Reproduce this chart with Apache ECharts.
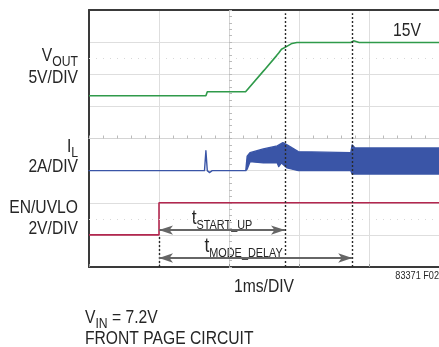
<!DOCTYPE html>
<html><head><meta charset="utf-8">
<script src="https://cdn.jsdelivr.net/npm/echarts@6/dist/echarts.min.js"></script>
<style>html,body{margin:0;padding:0;background:#fff}#c{width:439px;height:347px}</style>
</head><body><div id="c"></div>
<script>
const FONT = "'Liberation Sans',Arial,sans-serif";
const SX = 0.87; // condensed look

// time axis in ms (1 ms/DIV)
const xTicks = [0, 1, 2, 3, 4, 5];

// VOUT (V), 5V/DIV
const voutTime  = [0, 1.67, 1.69, 2.24, 2.5, 2.68, 2.71, 2.75, 2.82, 2.9, 2.97, 3.74, 3.78, 3.86, 5.0];
const voutVolts = [6.65, 6.65, 7.27, 7.3, 10.6, 12.9, 13.3, 13.9, 14.3, 14.8, 14.95, 14.95, 15.2, 14.95, 14.95];

// IL (A), 2A/DIV — envelope of the switching ripple
const ilUpperTime = [0, 1.65, 1.67, 1.69, 1.72, 1.76, 2.24, 2.26, 2.30, 2.49, 2.69, 2.77, 2.83, 2.99, 3.74, 3.76, 3.80, 5.0];
const ilUpperAmps = [0, 0, 1.24, 0, -0.12, 0, 0, 0.9, 1.12, 1.35, 1.54, 1.74, 1.6, 1.18, 1.12, 1.6, 1.41, 1.41];
const ilLowerTime = [0, 1.65, 1.67, 1.69, 1.72, 1.76, 2.24, 2.26, 2.30, 2.49, 2.69, 2.71, 2.75, 2.83, 2.99, 3.74, 3.76, 5.0];
const ilLowerAmps = [0, 0, 1.24, 0, -0.12, 0, 0, 0.1, 0.56, 0.48, 0.48, 0.25, 0.48, 0.17, 0.0, 0.0, -0.21, -0.21];

// EN/UVLO (V), 2V/DIV
const enTime  = [0, 1.0, 1.0, 5.0];
const enVolts = [0, 0, 2.0, 2.0];

// timing markers (ms)
const markerTimes = [1.0, 2.8, 3.76];
const intervalNames = ['START_UP', 'MODE_DELAY'];

// channel offsets (div) and scales (units/div)
const vDiv = v => 4 + v / 5;
const iDiv = a => 3 + a / 2;
const eDiv = v => 1 + v / 2;

const GREEN = '#2f9a4a', BLUE = '#3a55a7', RED = '#b3274f', TXT = '#262626';

const chart = echarts.init(document.getElementById('c'), null, {renderer: 'canvas'});

const upperPts = ilUpperTime.map((t, i) => [t, iDiv(ilUpperAmps[i])]);
const lowerPts = ilLowerTime.map((t, i) => [t, iDiv(ilLowerAmps[i])]);

const arrowRows = [1.15, 0.28];
const arrowLine = (end, y) => [
  {coord: [markerTimes[0], y], symbol: 'arrow', symbolSize: [7, 14],
   lineStyle: {color: '#666', width: 2, type: 'solid'}},
  {coord: [end, y], symbol: 'arrow', symbolSize: [7, 14]}
];

const richSub = {
  a: {fontFamily: FONT, fontSize: 18, fill: TXT, verticalAlign: 'bottom'},
  b: {fontFamily: FONT, fontSize: 14, fill: TXT, verticalAlign: 'bottom', padding: [0, 0, -4, 0]}
};
const txt = (x, y, text, align, size) => ({type: 'text', x: x, y: y, scaleX: SX, silent: true,
  style: {text: text, font: (size || 18) + 'px ' + FONT, fill: TXT, align: align, verticalAlign: 'middle'}});
const rtxt = (x, y, text, align) => ({type: 'text', x: x, y: y, scaleX: SX, silent: true,
  style: {text: text, align: align, verticalAlign: 'middle', rich: richSub}});

const option = {
  animation: false,
  backgroundColor: '#fff',
  grid: [
    {left: 89, right: 0, top: 10, bottom: 80, show: false},
    {left: 89, right: 0, top: 10, bottom: 80, show: false}
  ],
  xAxis: [
    {gridIndex: 0, type: 'value', min: xTicks[0], max: xTicks[xTicks.length - 1], interval: 1,
     axisLine: {show: true, lineStyle: {color: '#3a3a3a', width: 2}},
     axisTick: {show: true, inside: true, length: 3, lineStyle: {color: '#999'}},
     axisLabel: {show: false},
     splitLine: {show: true, lineStyle: {color: '#dedede', width: 1}}},
    {gridIndex: 0, type: 'value', position: 'top', min: 0, max: 5,
     axisLine: {show: true, lineStyle: {color: '#3a3a3a', width: 2}},
     axisTick: {show: false}, axisLabel: {show: false}, splitLine: {show: false}},
    {gridIndex: 1, type: 'value', min: -2, max: 3, interval: 1,
     axisLine: {show: true, onZero: true, lineStyle: {color: '#d4d4d4', width: 1}},
     axisTick: {show: true, length: 3, inside: true, lineStyle: {color: '#bbb'}},
     minorTick: {show: true, splitNumber: 5, length: 3, lineStyle: {color: '#bbb'}},
     axisLabel: {show: false}, splitLine: {show: false}}
  ],
  yAxis: [
    {gridIndex: 0, type: 'value', min: 0, max: 8, interval: 1,
     axisLine: {show: true, lineStyle: {color: '#3a3a3a', width: 2}},
     axisTick: {show: false}, axisLabel: {show: false},
     splitLine: {show: true, lineStyle: {color: '#dedede', width: 1}}},
    {gridIndex: 1, type: 'value', min: -4, max: 4, interval: 1,
     axisLine: {show: true, onZero: true, lineStyle: {color: '#d4d4d4', width: 1}},
     axisTick: {show: true, length: 3, inside: true, lineStyle: {color: '#bbb'}},
     minorTick: {show: true, splitNumber: 5, length: 3, lineStyle: {color: '#bbb'}},
     axisLabel: {show: false}, splitLine: {show: false}}
  ],
  series: [
    {type: 'line', name: 'grid dots', xAxisIndex: 0, yAxisIndex: 0, data: [], silent: true,
     markLine: {silent: true, symbol: 'none', label: {show: false},
       lineStyle: {color: '#d8d8d8', type: [1, 6], width: 1},
       data: [{yAxis: 1.5}, {yAxis: 6.5}]}},
    {type: 'line', name: 'VOUT', xAxisIndex: 0, yAxisIndex: 0, showSymbol: false, symbol: 'none',
     lineStyle: {color: GREEN, width: 1.6}, itemStyle: {color: GREEN},
     data: voutTime.map((t, i) => [t, vDiv(voutVolts[i])])},
    {type: 'custom', name: 'IL', xAxisIndex: 0, yAxisIndex: 0, data: [[0, 3]],
     renderItem: (params, api) => {
       const pts = upperPts.map(p => api.coord(p)).concat(lowerPts.slice().reverse().map(p => api.coord(p)));
       return {type: 'polygon', shape: {points: pts}, style: {fill: BLUE, stroke: BLUE, lineWidth: 1.4, lineJoin: 'round'}};
     }},
    {type: 'line', name: 'EN/UVLO', xAxisIndex: 0, yAxisIndex: 0, showSymbol: false, symbol: 'none',
     lineStyle: {color: RED, width: 1.6}, itemStyle: {color: RED},
     data: enTime.map((t, i) => [t, eDiv(enVolts[i])]),
     markLine: {silent: true, symbol: 'none', label: {show: false},
       lineStyle: {color: '#2a2a2a', type: [2, 2], width: 1.4},
       data: [
         [{coord: [markerTimes[0], 0]}, {coord: [markerTimes[0], 0.95]}],
         [{coord: [markerTimes[1], 0]}, {coord: [markerTimes[1], 7.9]}],
         [{coord: [markerTimes[2], 0]}, {coord: [markerTimes[2], 7.9]}],
         arrowLine(markerTimes[1], arrowRows[0]),
         arrowLine(markerTimes[2], arrowRows[1])
       ]}}
  ]
};
chart.setOption(option);

// interval labels placed through the chart's own scales
const toPx = p => chart.convertToPixel({xAxisIndex: 0, yAxisIndex: 0}, p);
const a1 = toPx([(markerTimes[0] + markerTimes[1]) / 2, arrowRows[0]]);
const a2 = toPx([(markerTimes[0] + markerTimes[2]) / 2, arrowRows[1]]);
const richT = {
  t: {fontFamily: FONT, fontSize: 20, fill: TXT, verticalAlign: 'bottom'},
  s: {fontFamily: FONT, fontSize: 12.5, fill: TXT, verticalAlign: 'bottom', padding: [0, 0, -4, 0]}
};
chart.setOption({graphic: [
  rtxt(78, 56, '{a|V}{b|OUT}', 'right'),
  txt(78, 78, '5V/DIV', 'right'),
  rtxt(78, 147, '{a|I}{b|L}', 'right'),
  txt(78, 167, '2A/DIV', 'right'),
  txt(78, 208, 'EN/UVLO', 'right'),
  txt(78, 229, '2V/DIV', 'right'),
  txt(393, 31, '15V', 'left'),
  txt(264, 287, '1ms/DIV', 'center'),
  txt(439, 276, '83371 F02', 'right', 10.5),
  rtxt(85, 318, '{a|V}{b|IN}{a| = 7.2V}', 'left'),
  txt(85, 339, 'FRONT PAGE CIRCUIT', 'left'),
  {type: 'text', x: a1[0], y: a1[1] - 12, scaleX: SX, silent: true,
   style: {text: '{t|t}{s|' + intervalNames[0] + '}', align: 'center', verticalAlign: 'middle', rich: richT}},
  {type: 'text', x: a2[0] - 12, y: a2[1] - 12, scaleX: SX, silent: true,
   style: {text: '{t|t}{s|' + intervalNames[1] + '}', align: 'center', verticalAlign: 'middle', rich: richT}}
]});
</script>
</body></html>
